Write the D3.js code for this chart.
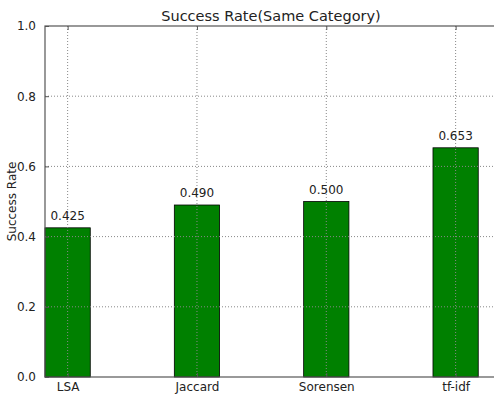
<!DOCTYPE html>
<html>
<head>
<meta charset="utf-8">
<script src="https://cdn.jsdelivr.net/npm/d3@7"></script>
<style>
  body { margin: 0; background: #fff; }
  svg { display: block; font-family: "DejaVu Sans", sans-serif; }
  .grid line { stroke: #888; stroke-dasharray: 1,2; stroke-width: 1; }
</style>
</head>
<body>
<svg width="494" height="394"></svg>
<script>
const categories = ['LSA', 'Jaccard', 'Sorensen', 'tf-idf'];
const rates = [0.425, 0.490, 0.500, 0.653];
const labels = ['0.425', '0.490', '0.500', '0.653'];
const yTicks = [0, 0.2, 0.4, 0.6, 0.8, 1.0];

const svg = d3.select('svg');
const plotLeft = 45, plotTop = 26, plotBottom = 377, plotRight = 497;
const barWidth = 0.35;

// index scale, bars centered on integer positions
const x = d3.scaleLinear().domain([-0.175, 3.32]).range([plotLeft, plotRight]);
const y = d3.scaleLinear().domain([0, 1]).range([plotBottom, plotTop]);

const plot = svg.append('g');

plot.selectAll('rect.bar')
    .data(rates)
    .enter().append('rect')
    .attr('class', 'bar')
    .attr('x', (d, i) => x(i - barWidth / 2))
    .attr('width', (d, i) => x(i + barWidth / 2) - x(i - barWidth / 2))
    .attr('y', d => y(d))
    .attr('height', d => plotBottom - y(d))
    .attr('fill', '#008000')
    .attr('stroke', '#000')
    .attr('stroke-width', 0.8);

// grid drawn over bars
const grid = svg.append('g').attr('class', 'grid');
grid.selectAll('line.h')
    .data(yTicks.slice(1, -1))
    .enter().append('line')
    .attr('x1', plotLeft).attr('x2', plotRight)
    .attr('y1', d => y(d)).attr('y2', d => y(d));
grid.selectAll('line.v')
    .data(categories)
    .enter().append('line')
    .attr('x1', (d, i) => x(i)).attr('x2', (d, i) => x(i))
    .attr('y1', plotTop).attr('y2', plotBottom);

// value labels
svg.selectAll('text.val')
    .data(rates)
    .enter().append('text')
    .attr('x', (d, i) => x(i))
    .attr('y', d => y(d) - 8)
    .attr('text-anchor', 'middle')
    .attr('font-size', 12)
    .attr('fill', '#222')
    .text((d, i) => labels[i]);

// spines
svg.append('rect')
    .attr('x', plotLeft).attr('y', plotTop)
    .attr('width', plotRight - plotLeft).attr('height', plotBottom - plotTop)
    .attr('fill', 'none')
    .attr('stroke', '#555')
    .attr('stroke-width', 1.2);

// axes with inward ticks
const yAxis = d3.axisLeft(y).tickValues(yTicks).tickFormat(d3.format('.1f'))
    .tickSizeInner(-4).tickSizeOuter(0).tickPadding(9);
const gy = svg.append('g').attr('transform', `translate(${plotLeft},0)`).call(yAxis);
const xAxis = d3.axisBottom(x).tickValues(d3.range(categories.length))
    .tickFormat(i => categories[i]).tickSizeInner(-4).tickSizeOuter(0).tickPadding(5);
const gx = svg.append('g').attr('transform', `translate(0,${plotBottom})`).call(xAxis);
svg.append('g').attr('transform', `translate(0,${plotTop})`)
    .call(d3.axisTop(x).tickValues(d3.range(categories.length)).tickFormat('')
        .tickSizeInner(-4).tickSizeOuter(0));

[gx, gy].forEach(g => {
    g.selectAll('text').attr('font-size', 12).attr('fill', '#222')
        .attr('font-family', '"DejaVu Sans", sans-serif');
});
svg.selectAll('.tick line').attr('stroke', '#555');
svg.selectAll('.domain').remove();

svg.append('text')
    .attr('x', (plotLeft + plotRight) / 2)
    .attr('y', 21)
    .attr('text-anchor', 'middle')
    .attr('font-size', 14.5)
    .attr('fill', '#222')
    .text('Success Rate(Same Category)');

svg.append('text')
    .attr('transform', `translate(16,${(plotTop + plotBottom) / 2}) rotate(-90)`)
    .attr('text-anchor', 'middle')
    .attr('font-size', 12)
    .attr('fill', '#222')
    .text('Success Rate');
</script>
</body>
</html>
